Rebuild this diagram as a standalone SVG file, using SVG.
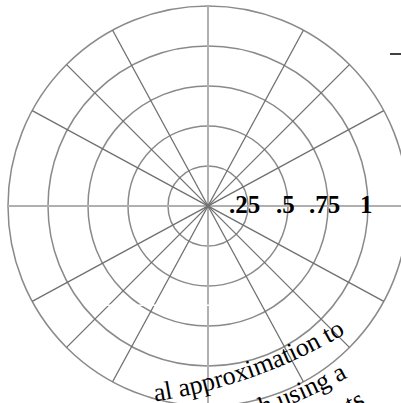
<svg xmlns="http://www.w3.org/2000/svg" width="401" height="403" viewBox="0 0 401 403">
<style>
.ring{fill:none;stroke:#8a8a8a;stroke-width:1.5}
.axis{stroke:#b0b0b0;stroke-width:2}
.spoke{stroke:#707070;stroke-width:1.3}
.lbl{font-family:"Liberation Serif","Times New Roman",serif;font-weight:bold;font-size:25px;fill:#000}
.body{font-family:"Liberation Serif","Times New Roman",serif;font-size:26px;fill:#000}
</style>
<defs>
<path id="l1" d="M155,401.4 A521,521 0 0 0 447,254.4"/>
<path id="l2" d="M262.2,415.2 A560,560 0 0 0 475,282"/>
<path id="l3" d="M333,421.8 A593,593 0 0 0 498,305"/>
</defs>
<rect width="401" height="403" fill="#fff"/>
<g id="grid">
<g id="rings">
<circle class="ring" cx="208" cy="206" r="40"/>
<circle class="ring" cx="208" cy="206" r="80"/>
<circle class="ring" cx="208" cy="206" r="120"/>
<circle class="ring" cx="208" cy="206" r="160"/>
<circle class="ring" cx="208" cy="206" r="200"/>
</g>
<g id="axes">
<line class="axis" x1="8" y1="206" x2="408" y2="206"/>
<line class="axis" x1="208" y1="6" x2="208" y2="406"/>
</g>
<g id="spokes">
<line class="spoke" x1="383.8" y1="110.6" x2="32.2" y2="301.4"/>
<line class="spoke" x1="349.4" y1="64.6" x2="66.6" y2="347.4"/>
<line class="spoke" x1="303.4" y1="30.2" x2="112.6" y2="381.8"/>
<line class="spoke" x1="112.6" y1="30.2" x2="303.4" y2="381.8"/>
<line class="spoke" x1="66.6" y1="64.6" x2="349.4" y2="347.4"/>
<line class="spoke" x1="32.2" y1="110.6" x2="383.8" y2="301.4"/>
</g>
</g>
<rect x="95" y="304.5" width="117" height="1.5" fill="#fff"/>
<g id="labels">
<text class="lbl" x="229" y="213">.25</text>
<text class="lbl" x="276" y="213">.5</text>
<text class="lbl" x="309" y="213">.75</text>
<text class="lbl" x="360" y="213">1</text>
</g>
<line x1="390" y1="54" x2="401" y2="54" stroke="#000" stroke-width="1.5"/>
<g id="caption">
<text class="body"><textPath href="#l1">al approximation to</textPath></text>
<text class="body"><textPath href="#l2">h using a</textPath></text>
<text class="body"><textPath href="#l3">ints</textPath></text>
</g>
</svg>
